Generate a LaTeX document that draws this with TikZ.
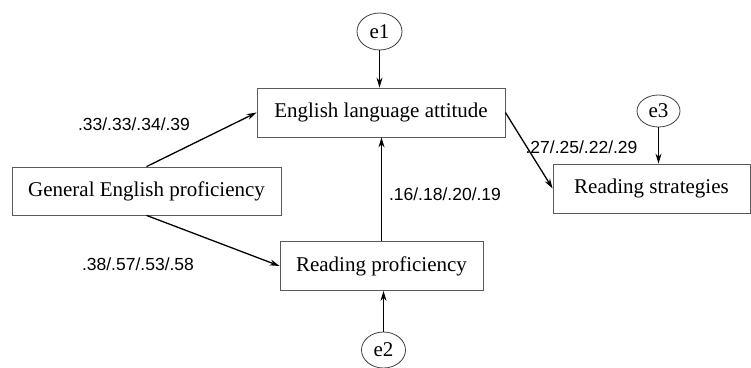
\documentclass[tikz,border=0pt]{standalone}
\usepackage{fontspec}
\setmainfont{Liberation Serif}
\setsansfont{Liberation Sans}
\usetikzlibrary{arrows.meta,shapes.geometric}
\tikzset{
  box/.style={draw=black!65, line width=0.8pt, rectangle, inner sep=0pt,
    font=\fontsize{21}{25}\selectfont},
  err/.style={draw=black!75, line width=0.8pt, ellipse, inner sep=0pt,
    font=\fontsize{21}{25}\selectfont},
  conn/.style={line width=1.3pt, -{Stealth[length=10pt,width=6pt]}},
  coef/.style={font=\sffamily\fontsize{17.5}{20}\selectfont, inner sep=0pt}
}
\begin{document}
\begin{tikzpicture}[x=1pt,y=-1pt]
\useasboundingbox (0,0) rectangle (751,367);
\node[box, minimum width=248pt, minimum height=49pt] (eng) at (381,112.5) {English language attitude};
\node[box, minimum width=269pt, minimum height=48pt] (gen) at (146.5,191) {General English proficiency};
\node[box, minimum width=203pt, minimum height=49pt] (rp) at (381.5,266) {Reading proficiency};
\node[box, minimum width=197pt, minimum height=49pt] (rs) at (651.5,188.5) {Reading strategies};
\node[err, minimum width=45pt, minimum height=37pt] (e1) at (379.5,31.5) {e1};
\node[err, minimum width=43pt, minimum height=32pt] (e3) at (658.5,111) {e3};
\node[err, minimum width=44pt, minimum height=36pt] (e2) at (383.5,350) {e2};

\draw[conn] (gen.north) -- (eng.west);
\draw[conn] (gen.south) -- (rp.west);
\draw[conn] (rp.north) -- (rp.north |- eng.south);
\draw[conn] (eng.east) -- (rs.west);
\draw[conn] (e1.south) -- (e1.south |- eng.north);
\draw[conn] (e3.south) -- (e3.south |- rs.north);
\draw[conn] (e2.north) -- (e2.north |- rp.south);

\node[coef] (c1) at (134,124) {.33/.33/.34/.39};
\node[coef] (c2) at (138,264) {.38/.57/.53/.58};
\node[coef] (c3) at (445,194) {.16/.18/.20/.19};
\node[coef] (c4) at (581.5,147) {.27/.25/.22/.29};
\end{tikzpicture}
\end{document}
